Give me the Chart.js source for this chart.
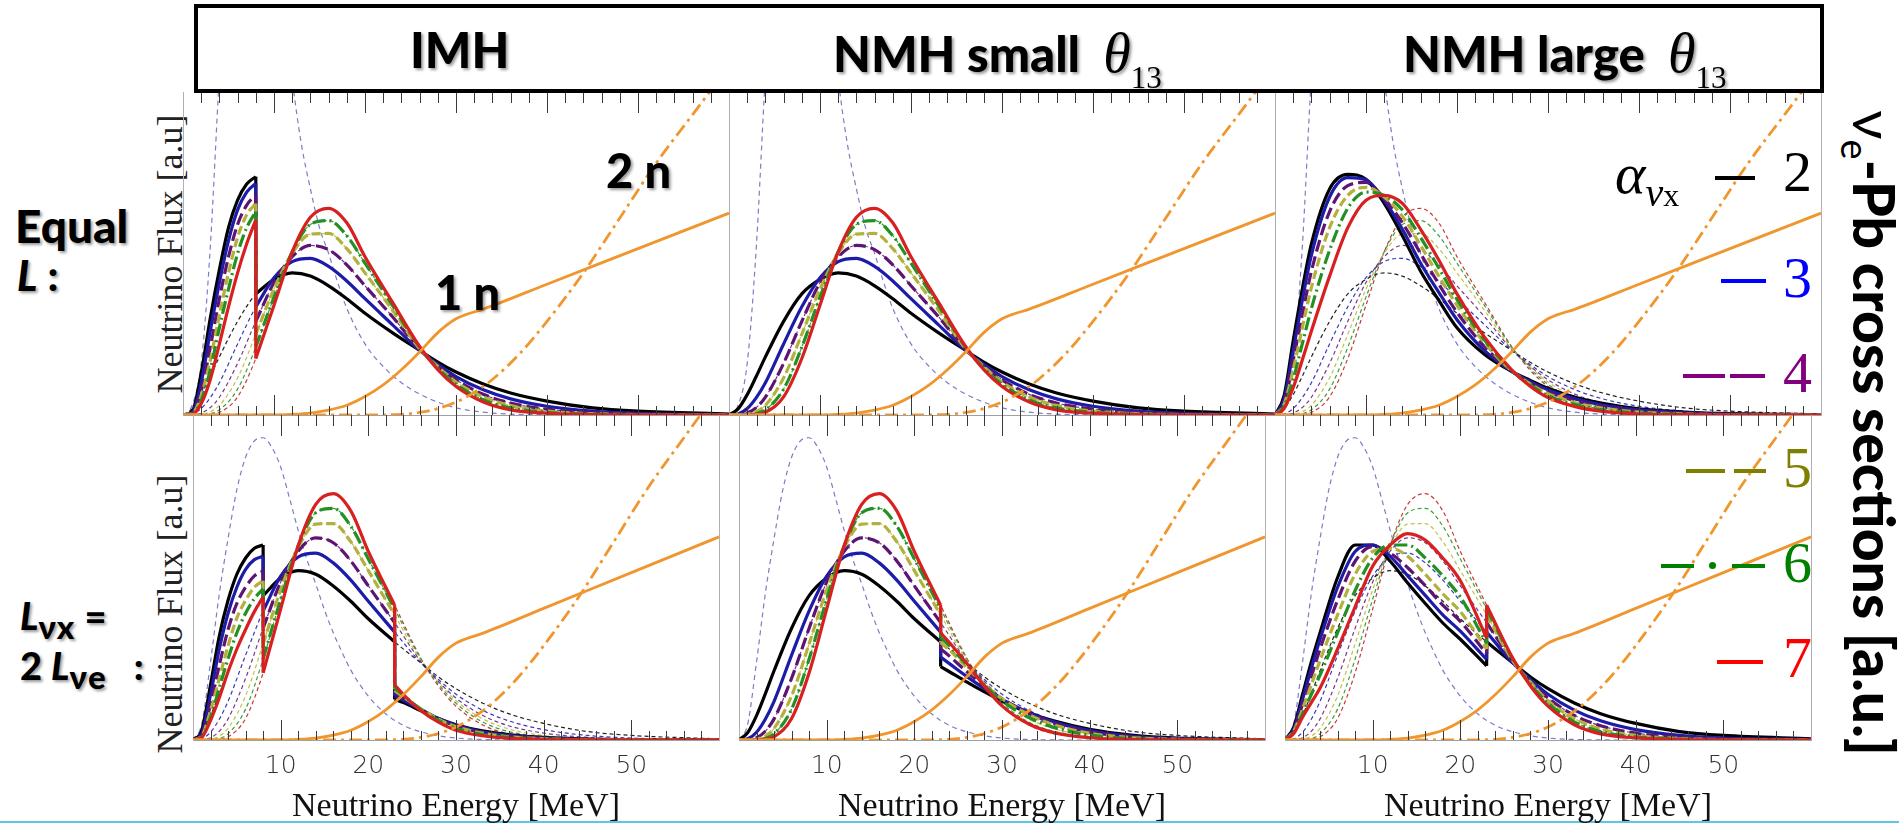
<!DOCTYPE html>
<html>
<head>
<meta charset="utf-8">
<title>Neutrino spectra vs. ve-Pb cross sections</title>
<script src="https://cdn.jsdelivr.net/npm/chart.js@4.4.1/dist/chart.umd.min.js"></script>
<style>
  body { margin: 0; width: 1899px; height: 823px; overflow: hidden; background: #fff; position: relative; }
  canvas { position: absolute; }
  .box { position: absolute; left: 194px; top: 4px; width: 1630px; height: 89px; border: 4px solid #000; box-sizing: border-box; z-index: 2; }
  .lbl { position: absolute; font-family: Lato, 'Open Sans', sans-serif; font-weight: 900; color: #000; line-height: 1; white-space: nowrap; text-shadow: 2px 2px 3px rgba(0,0,0,.4); z-index: 3; }
  .th { font-family: 'Liberation Serif', serif; font-style: italic; font-weight: 400; font-size: 56px; }
  .th sub { font-style: normal; font-size: 31px; vertical-align: -16px; }
  .ylab { position: absolute; font-family: 'Liberation Serif', serif; font-size: 36px; color: #222; line-height: 1; white-space: nowrap; transform: translate(-50%, -50%) rotate(-90deg); }
  .leg { position: absolute; font-family: 'Liberation Serif', serif; font-size: 58px; line-height: 1; z-index: 3; }
  .smp { position: absolute; height: 4px; z-index: 3; }
  .lsub { font-size: 33px; vertical-align: -9px; letter-spacing: 1px; }
</style>
</head>
<body>

<div class="box"></div>
<div class="lbl" style="left:410px;top:25px;font-size:49px">IMH</div>
<div class="lbl" style="left:833px;top:25px;font-size:49px">NMH small&nbsp;&nbsp;<span class="th">θ<sub>13</sub></span></div>
<div class="lbl" style="left:1403px;top:25px;font-size:49px">NMH large&nbsp;&nbsp;<span class="th">θ<sub>13</sub></span></div>

<div class="lbl" style="left:15px;top:203px;font-size:46px">Equal</div>
<div class="lbl" style="left:17px;top:254px;font-size:42px"><i>L</i> :</div>
<div class="lbl" style="left:20px;top:596px;font-size:38px"><i>L</i><span class="lsub">νx</span>&nbsp;=</div>
<div class="lbl" style="left:20px;top:646px;font-size:38px">2&nbsp;<i>L</i><span class="lsub">νe</span>&nbsp;&nbsp;&nbsp;:</div>

<div class="ylab" style="left:170px;top:254px">Neutrino Flux [a.u]</div>
<div class="ylab" style="left:170px;top:614px">Neutrino Flux [a.u]</div>

<div class="lbl" style="left:606px;top:147px;font-size:47px">2 n</div>
<div class="lbl" style="left:435px;top:269px;font-size:47px">1 n</div>

<!-- alpha legend -->
<div class="leg" style="left:1615px;top:145px;font-style:italic">α<sub style="font-size:40px">ν<span style="font-style:normal;font-size:32px">x</span></sub></div>
<div class="smp" style="left:1715px;top:176px;width:40px;background:#000"></div>
<div class="leg" style="left:1783px;top:143px;color:#000">2</div>
<div class="smp" style="left:1721px;top:279px;width:45px;background:#0000ff"></div>
<div class="leg" style="left:1783px;top:249px;color:#0000ff">3</div>
<div class="smp" style="left:1683px;top:374px;width:42px;background:#800080"></div>
<div class="smp" style="left:1730px;top:374px;width:35px;background:#800080"></div>
<div class="leg" style="left:1783px;top:344px;color:#800080">4</div>
<div class="smp" style="left:1686px;top:469px;width:39px;background:#808000"></div>
<div class="smp" style="left:1734px;top:469px;width:32px;background:#808000"></div>
<div class="leg" style="left:1783px;top:439px;color:#808000">5</div>
<div class="smp" style="left:1661px;top:564px;width:33px;background:#008000"></div>
<div class="smp" style="left:1709px;top:562px;width:7px;height:7px;border-radius:50%;background:#008000"></div>
<div class="smp" style="left:1732px;top:564px;width:33px;background:#008000"></div>
<div class="leg" style="left:1783px;top:534px;color:#008000">6</div>
<div class="smp" style="left:1717px;top:660px;width:46px;background:#ff0000"></div>
<div class="leg" style="left:1783px;top:629px;color:#ff0000">7</div>

<div class="lbl" style="left:1870px;top:433px;font-size:57px;text-shadow:none;transform:translate(-50%,-50%) rotate(90deg)"><span style="font-weight:400">ν<sub style="font-size:38px">e</sub></span>-Pb cross sections [a.u.]</div>

<div style="position:absolute;left:0;top:821px;width:1899px;height:2px;background:#5cc6e6"></div>

<canvas id="tl"></canvas>
<canvas id="tm"></canvas>
<canvas id="tr"></canvas>
<canvas id="bl"></canvas>
<canvas id="bm"></canvas>
<canvas id="br"></canvas>

<script>
// spectral index of the nu_x spectra, one curve per value
const ALPHAS = [2, 3, 4, 5, 6, 7];
// swap energies (MeV)
const SPLIT_LOW = 8;
const SPLIT_HIGH = 23;

// primary nu_x spectra, shared energy grid
const E_BASE = [0, 1, 2, 3, 4, 6, 8, 10, 12, 14, 16, 18, 20, 23, 26, 28, 30, 33, 36, 40, 45, 50, 60];
const BASE_TOP = [
  [0, 0.019, 0.063, 0.12, 0.18, 0.29, 0.375, 0.42, 0.44, 0.43, 0.40, 0.36, 0.315, 0.255, 0.2, 0.164, 0.133, 0.096, 0.068, 0.043, 0.022, 0.012, 0.003],
  [0, 0.003, 0.02, 0.054, 0.10, 0.22, 0.335, 0.425, 0.475, 0.485, 0.46, 0.415, 0.36, 0.28, 0.2, 0.157, 0.119, 0.078, 0.05, 0.027, 0.012, 0.005, 0.001],
  [0, 0.0005, 0.006, 0.023, 0.055, 0.16, 0.29, 0.41, 0.49, 0.525, 0.512, 0.465, 0.40, 0.305, 0.203, 0.152, 0.109, 0.064, 0.037, 0.018, 0.007, 0.0025, 0.0003],
  [0, 0, 0.002, 0.01, 0.03, 0.115, 0.25, 0.39, 0.50, 0.56, 0.562, 0.515, 0.44, 0.325, 0.205, 0.15, 0.102, 0.056, 0.029, 0.012, 0.004, 0.0012, 0.0001],
  [0, 0, 0.0005, 0.004, 0.016, 0.08, 0.21, 0.365, 0.505, 0.59, 0.602, 0.555, 0.47, 0.34, 0.21, 0.145, 0.095, 0.047, 0.022, 0.0085, 0.0025, 0.0006, 0],
  [0, 0, 0.0002, 0.0017, 0.008, 0.056, 0.175, 0.34, 0.505, 0.612, 0.64, 0.595, 0.49, 0.35, 0.212, 0.14, 0.088, 0.04, 0.016, 0.0055, 0.0013, 0.0002, 0],
];
const BASE_BOT = [
  [0, 0.023, 0.075, 0.142, 0.213, 0.344, 0.444, 0.498, 0.521, 0.51, 0.474, 0.427, 0.373, 0.302, 0.237, 0.194, 0.158, 0.114, 0.081, 0.051, 0.026, 0.014, 0.0036],
  [0, 0.0036, 0.024, 0.064, 0.119, 0.261, 0.397, 0.504, 0.563, 0.575, 0.545, 0.492, 0.427, 0.332, 0.237, 0.186, 0.141, 0.092, 0.059, 0.032, 0.014, 0.006, 0.0012],
  [0, 0.0006, 0.007, 0.027, 0.065, 0.19, 0.344, 0.486, 0.581, 0.622, 0.607, 0.551, 0.474, 0.361, 0.241, 0.18, 0.129, 0.076, 0.044, 0.021, 0.0083, 0.003, 0.0004],
  [0, 0, 0.0024, 0.012, 0.036, 0.136, 0.296, 0.462, 0.593, 0.664, 0.666, 0.61, 0.521, 0.385, 0.243, 0.178, 0.121, 0.066, 0.034, 0.014, 0.0047, 0.0014, 0.0001],
  [0, 0, 0.0006, 0.0047, 0.019, 0.095, 0.249, 0.433, 0.598, 0.699, 0.713, 0.658, 0.557, 0.403, 0.249, 0.172, 0.113, 0.056, 0.026, 0.01, 0.003, 0.0007, 0],
  [0, 0, 0.0002, 0.002, 0.0095, 0.066, 0.207, 0.403, 0.598, 0.725, 0.758, 0.705, 0.58, 0.415, 0.251, 0.166, 0.104, 0.047, 0.019, 0.0065, 0.0015, 0.0002, 0],
];

// nu_e spectrum
const NUE_E = [0, 1, 2, 3, 4, 5, 6, 7, 8, 9, 10, 11, 12, 13, 14, 15, 16, 17, 18, 20, 22, 24, 26, 28, 30, 34, 40, 60];
const NUE_TOP = [0, 0.03, 0.16, 0.52, 1.05, 1.45, 1.7, 1.82, 1.84, 1.75, 1.55, 1.3, 1.04, 0.84, 0.7, 0.58, 0.5, 0.41, 0.33, 0.22, 0.15, 0.1, 0.065, 0.04, 0.022, 0.006, 0.001, 0];
const NUE_BOT = [0, 0.05, 0.24, 0.45, 0.62, 0.77, 0.87, 0.92, 0.93, 0.9, 0.84, 0.745, 0.645, 0.555, 0.48, 0.4, 0.33, 0.27, 0.215, 0.135, 0.08, 0.045, 0.025, 0.013, 0.006, 0.001, 0, 0];

// ve-Pb cross sections, one and two neutron emission
const XS_1N_E = [0, 10, 12, 14, 16, 18, 20, 22, 24, 26, 28, 30, 31, 33, 40, 50, 60];
const XS_1N = [0, 0, 0.002, 0.006, 0.015, 0.03, 0.057, 0.093, 0.14, 0.195, 0.255, 0.298, 0.31, 0.328, 0.405, 0.515, 0.625];
const XS_2N_E = [0, 20, 24, 26, 28, 30, 32, 34, 37, 40, 44, 48, 52, 56, 60];
const XS_2N = [0, 0, 0.002, 0.008, 0.02, 0.04, 0.07, 0.11, 0.19, 0.29, 0.44, 0.61, 0.78, 0.93, 1.08];

// IMH: low-energy part below the lower swap
const LOW_E = [0, 1, 2, 3, 4, 5, 6, 7, 8];
const IMH_LOW_TOP = [
  [0, 0.01, 0.13, 0.3, 0.45, 0.58, 0.665, 0.715, 0.738],
  [0, 0.007, 0.1, 0.26, 0.41, 0.54, 0.635, 0.69, 0.717],
  [0, 0.005, 0.075, 0.21, 0.36, 0.49, 0.59, 0.65, 0.681],
  [0, 0.004, 0.06, 0.17, 0.31, 0.44, 0.55, 0.62, 0.655],
  [0, 0.003, 0.045, 0.14, 0.27, 0.39, 0.5, 0.58, 0.63],
  [0, 0.002, 0.035, 0.11, 0.22, 0.335, 0.44, 0.53, 0.604],
];
const IMH_LOW_BOT = [
  [0, 0.03, 0.17, 0.32, 0.43, 0.51, 0.56, 0.59, 0.6],
  [0, 0.02, 0.14, 0.28, 0.39, 0.47, 0.525, 0.555, 0.565],
  [0, 0.015, 0.11, 0.23, 0.34, 0.42, 0.47, 0.505, 0.52],
  [0, 0.012, 0.09, 0.19, 0.29, 0.375, 0.43, 0.47, 0.49],
  [0, 0.01, 0.07, 0.16, 0.25, 0.33, 0.39, 0.435, 0.465],
  [0, 0.008, 0.06, 0.13, 0.21, 0.28, 0.34, 0.395, 0.44],
];

// high-energy tails above the upper swap
const TAIL_E = [23, 24, 26, 28, 30, 33, 36, 40, 45, 50, 60];
const IMH_TAIL_BOT = [
  [0.125, 0.115, 0.09, 0.066, 0.047, 0.028, 0.017, 0.008, 0.003, 0.001, 0],
  [0.135, 0.122, 0.093, 0.066, 0.045, 0.025, 0.014, 0.006, 0.002, 0.0006, 0],
  [0.145, 0.128, 0.095, 0.065, 0.043, 0.023, 0.012, 0.005, 0.0015, 0.0004, 0],
  [0.152, 0.133, 0.096, 0.064, 0.041, 0.021, 0.01, 0.004, 0.001, 0.0003, 0],
  [0.16, 0.138, 0.094, 0.06, 0.036, 0.017, 0.008, 0.003, 0.0007, 0.0001, 0],
  [0.17, 0.14, 0.09, 0.055, 0.03, 0.013, 0.005, 0.0015, 0.0003, 0, 0],
];
const NMHS_TAIL_BOT = [
  [0.226, 0.21, 0.178, 0.148, 0.12, 0.085, 0.058, 0.033, 0.014, 0.006, 0.001],
  [0.255, 0.235, 0.195, 0.158, 0.125, 0.085, 0.055, 0.029, 0.011, 0.004, 0.0006],
  [0.28, 0.258, 0.21, 0.166, 0.127, 0.083, 0.051, 0.025, 0.009, 0.003, 0.0003],
  [0.3, 0.277, 0.222, 0.171, 0.127, 0.079, 0.046, 0.021, 0.007, 0.002, 0.0001],
  [0.315, 0.29, 0.23, 0.17, 0.12, 0.07, 0.038, 0.015, 0.004, 0.001, 0],
  [0.33, 0.30, 0.235, 0.165, 0.105, 0.05, 0.022, 0.007, 0.0015, 0.0002, 0],
];

// NMH large theta13
const NMHL_TOP = [
  [0, 0.06, 0.23, 0.39, 0.53, 0.70, 0.745, 0.73, 0.655, 0.555, 0.445, 0.355, 0.27, 0.188, 0.135, 0.108, 0.083, 0.055, 0.036, 0.019, 0.009, 0.004, 0.001],
  [0, 0.048, 0.2, 0.355, 0.495, 0.675, 0.735, 0.728, 0.665, 0.575, 0.47, 0.38, 0.295, 0.2, 0.135, 0.104, 0.078, 0.05, 0.031, 0.016, 0.007, 0.003, 0.0005],
  [0, 0.04, 0.17, 0.31, 0.445, 0.63, 0.71, 0.72, 0.67, 0.595, 0.5, 0.405, 0.318, 0.212, 0.136, 0.1, 0.072, 0.044, 0.026, 0.012, 0.005, 0.002, 0.0003],
  [0, 0.033, 0.14, 0.27, 0.395, 0.58, 0.68, 0.705, 0.675, 0.615, 0.525, 0.43, 0.34, 0.224, 0.137, 0.097, 0.066, 0.038, 0.021, 0.009, 0.003, 0.001, 0.0001],
  [0, 0.027, 0.11, 0.22, 0.33, 0.51, 0.64, 0.69, 0.68, 0.635, 0.55, 0.455, 0.358, 0.233, 0.138, 0.094, 0.06, 0.032, 0.016, 0.006, 0.002, 0.0005, 0],
  [0, 0.02, 0.085, 0.17, 0.26, 0.43, 0.58, 0.665, 0.68, 0.655, 0.575, 0.48, 0.375, 0.242, 0.14, 0.09, 0.054, 0.026, 0.011, 0.003, 0.001, 0.0002, 0],
];
const NMHL_LOW_BOT = [
  [0, 0.04, 0.14, 0.24, 0.33, 0.5, 0.6, 0.6, 0.55, 0.483, 0.42, 0.36, 0.31, 0.228],
  [0, 0.034, 0.125, 0.22, 0.31, 0.47, 0.58, 0.6, 0.565, 0.505, 0.445, 0.385, 0.335, 0.248],
  [0, 0.03, 0.11, 0.195, 0.28, 0.43, 0.55, 0.595, 0.575, 0.53, 0.475, 0.415, 0.365, 0.265],
  [0, 0.027, 0.095, 0.17, 0.245, 0.385, 0.51, 0.58, 0.59, 0.565, 0.51, 0.45, 0.395, 0.28],
  [0, 0.023, 0.08, 0.14, 0.2, 0.33, 0.46, 0.56, 0.6, 0.6, 0.56, 0.505, 0.44, 0.297],
  [0, 0.02, 0.07, 0.115, 0.16, 0.28, 0.41, 0.535, 0.6, 0.635, 0.615, 0.56, 0.49, 0.313],
];

const E_MAX = 60;
const TICK_STEP = 2;
const LABEL_STEP = 10;

const COLORS = ['#000000', '#1c1ca8', '#5e1473', '#b3b03c', '#229022', '#d92020'];
const THIN = ['#222222', '#3a3ab8', '#7a3a8a', '#c4c050', '#3aa03a', '#cc3838'];
const DASH = [[], [], [12, 5], [9, 4], [13, 4, 2, 4], []];
const ORANGE = '#f0962e';
const NUE_COLOR = '#7c7cc8';

const pts = (xs, ys) => xs.map((x, i) => ({ x, y: ys[i] }));
const at = (ys, e) => ys[E_BASE.indexOf(e)];
const slice = (ys, lo, hi) => pts(E_BASE, ys).filter(p => p.x >= lo && p.x <= hi);
const jump = (e, from, to) => [{ x: e, y: from }, { x: e, y: to }];
const last = a => a[a.length - 1];

function line(data, color, width, dash, order) {
  return {
    data, order,
    borderColor: color, borderWidth: width, borderDash: dash,
    borderCapStyle: 'butt', borderJoinStyle: 'round',
    pointRadius: 0, fill: false, cubicInterpolationMode: 'monotone',
  };
}

// thick (oscillated) spectra per panel, as lists of segments
const THICK = {
  tl: i => [pts(LOW_E, IMH_LOW_TOP[i]), jump(SPLIT_LOW, last(IMH_LOW_TOP[i]), at(BASE_TOP[i], SPLIT_LOW)), slice(BASE_TOP[i], SPLIT_LOW, E_MAX)],
  tm: i => [slice(BASE_TOP[i], 0, E_MAX)],
  tr: i => [pts(E_BASE, NMHL_TOP[i])],
  bl: i => [pts(LOW_E, IMH_LOW_BOT[i]), jump(SPLIT_LOW, last(IMH_LOW_BOT[i]), at(BASE_BOT[i], SPLIT_LOW)),
            slice(BASE_BOT[i], SPLIT_LOW, SPLIT_HIGH), jump(SPLIT_HIGH, at(BASE_BOT[i], SPLIT_HIGH), IMH_TAIL_BOT[i][0]), pts(TAIL_E, IMH_TAIL_BOT[i])],
  bm: i => [slice(BASE_BOT[i], 0, SPLIT_HIGH), jump(SPLIT_HIGH, at(BASE_BOT[i], SPLIT_HIGH), NMHS_TAIL_BOT[i][0]), pts(TAIL_E, NMHS_TAIL_BOT[i])],
  br: i => [pts(E_BASE.filter(e => e <= SPLIT_HIGH), NMHL_LOW_BOT[i]), jump(SPLIT_HIGH, last(NMHL_LOW_BOT[i]), at(BASE_BOT[i], SPLIT_HIGH)), slice(BASE_BOT[i], SPLIT_HIGH, E_MAX)],
};

function panelData(id, row) {
  const base = row === 'top' ? BASE_TOP : BASE_BOT;
  const nue = row === 'top' ? NUE_TOP : NUE_BOT;
  const ds = [
    line(pts(XS_1N_E, XS_1N), ORANGE, 2.8, [], 0),
    line(pts(XS_2N_E, XS_2N), ORANGE, 2.8, [13, 5, 3, 5], 0),
  ];
  ALPHAS.forEach((a, i) => {
    THICK[id](i).forEach(seg => ds.push(line(seg, COLORS[i], 3.2, DASH[i], 10 - i)));
    ds.push(line(pts(E_BASE, base[i]), THIN[i], 1.2, [4, 3], 20 + i));
  });
  ds.push(line(pts(NUE_E, nue), NUE_COLOR, 1.2, [5, 4], 30));
  return ds;
}

// inward tick marks along the top and bottom frame
const frameTicks = {
  id: 'frameTicks',
  afterDatasetsDraw(chart) {
    const { ctx, chartArea: a, scales: { x } } = chart;
    ctx.save();
    ctx.strokeStyle = '#3a3a3a';
    ctx.lineWidth = 1;
    ctx.beginPath();
    for (let e = TICK_STEP; e < E_MAX; e += TICK_STEP) {
      const px = Math.round(x.getPixelForValue(e)) + 0.5;
      const major = e % LABEL_STEP === 0;
      ctx.moveTo(px, a.bottom);
      ctx.lineTo(px, a.bottom - (major ? 20 : 9));
      ctx.moveTo(px, a.top);
      ctx.lineTo(px, a.top + (major ? 21 : 11));
    }
    ctx.stroke();
    ctx.restore();
  },
};

const PANEL_W = 546;
const PANELS = [
  { id: 'tl', row: 'top', left: 183 }, { id: 'tm', row: 'top', left: 729 }, { id: 'tr', row: 'top', left: 1275 },
  { id: 'bl', row: 'bot', left: 183 }, { id: 'bm', row: 'bot', left: 729 }, { id: 'br', row: 'bot', left: 1275 },
];

Chart.defaults.font.family = "'DejaVu Sans', sans-serif";

PANELS.forEach(p => {
  const top = p.row === 'top';
  const plotH = top ? 323 : 325;
  const axisH = top ? 7 : 85;
  const cv = document.getElementById(p.id);
  cv.width = PANEL_W + 2;
  cv.height = plotH + axisH;
  cv.style.left = (p.left - 1) + 'px';
  cv.style.top = (top ? 92 : 415) + 'px';

  new Chart(cv, {
    type: 'line',
    data: { datasets: panelData(p.id, p.row) },
    options: {
      responsive: false,
      animation: false,
      devicePixelRatio: 1,
      layout: { padding: 0 },
      plugins: { legend: { display: false }, tooltip: { enabled: false } },
      scales: {
        x: {
          type: 'linear', min: 0, max: E_MAX, position: 'bottom',
          grid: { display: false, drawTicks: false },
          border: { display: true, color: '#a0a0a0', width: 1 },
          ticks: {
            display: !top, stepSize: LABEL_STEP, padding: 11, autoSkip: false, maxRotation: 0,
            color: '#333', font: { family: "'DejaVu Sans', sans-serif", size: 25, weight: 300 },
            callback: v => (v > 0 && v < E_MAX ? v : ''),
          },
          title: {
            display: !top, text: 'Neutrino Energy [MeV]', color: '#111',
            font: { family: "'Liberation Serif', serif", size: 34, lineHeight: 1 },
            padding: { top: 0, bottom: 1 },
          },
          afterFit: s => { s.height = axisH; },
        },
        y: {
          min: 0, max: 1, position: 'left',
          grid: { display: false, drawTicks: false },
          border: { display: true, color: '#b0b0b0', width: 1 },
          ticks: { display: false },
          afterFit: s => { s.width = 1; },
        },
        yR: {
          min: 0, max: 1, position: 'right',
          grid: { display: false, drawTicks: false },
          border: { display: true, color: '#b0b0b0', width: 1 },
          ticks: { display: false },
          afterFit: s => { s.width = 1; },
        },
      },
    },
    plugins: [frameTicks],
  });
});
</script>
</body>
</html>
